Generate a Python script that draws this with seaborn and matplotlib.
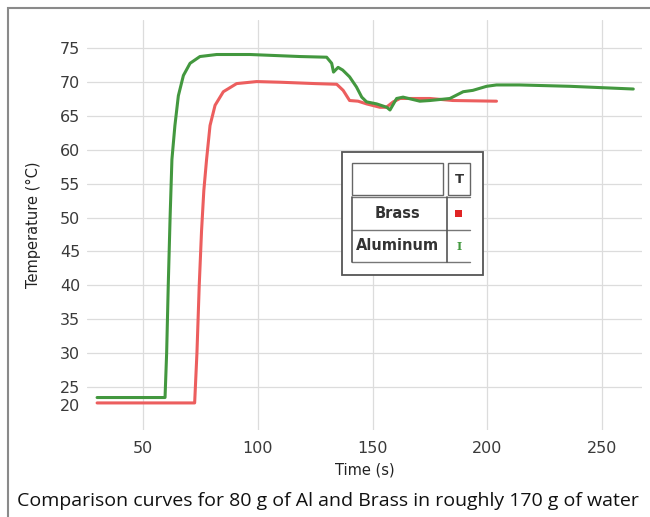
import pandas as pd
import seaborn as sns
import matplotlib.pyplot as plt
from matplotlib.patches import Rectangle
from matplotlib.lines import Line2D

# Aluminum curve (time in s, temperature in °C)
al_t = [30, 59.6, 60.3, 61.0, 61.8, 62.6, 63.9, 65.4, 67.6, 70.5, 74.8, 82.1,
        96.6, 118.4, 130.0, 132.2, 133.0, 135.0, 137.0, 140.0, 143.0, 145.3,
        147.4, 151.8, 156.2, 157.6, 160.5, 163.3, 170.6, 175.0, 183.7, 189.5,
        193.7, 199.7, 204.0, 214.0, 236.0, 263.6]
al_temp = [23.4, 23.4, 30.0, 40.0, 50.0, 58.6, 63.6, 68.0, 71.0, 72.8, 73.8, 74.1,
           74.1, 73.8, 73.7, 72.8, 71.5, 72.2, 71.8, 70.8, 69.3, 67.8,
           67.1, 66.8, 66.3, 65.9, 67.6, 67.8, 67.2, 67.3, 67.6, 68.6,
           68.8, 69.4, 69.6, 69.6, 69.4, 69.0]

# Brass curve
br_t = [30, 72.5, 73.5, 74.5, 75.5, 76.5, 77.7, 79.2, 81.4, 85.0, 90.8, 99.5,
        110, 125, 134.4, 137.2, 140.0, 143.7, 147.4, 153.2, 156.0, 159.0,
        162.0, 175.0, 185.0, 204.0]
br_temp = [22.6, 22.6, 30, 40, 48, 54, 58.6, 63.6, 66.6, 68.6, 69.8, 70.1,
           70.0, 69.8, 69.7, 68.8, 67.3, 67.2, 66.8, 66.3, 66.3, 67.1,
           67.6, 67.6, 67.3, 67.2]

x_ticks = [50, 100, 150, 200, 250]
y_ticks = [22.3, 25, 30, 35, 40, 45, 50, 55, 60, 65, 70, 75]
y_tick_labels = ["20", "25", "30", "35", "40", "45", "50", "55", "60", "65", "70", "75"]

W, H = 650, 517


def px(x, y):
    # pixel position (from top-left) -> figure fraction
    return x / W, 1 - y / H


def main():
    sns.set_theme(style="whitegrid")
    plt.rcParams["font.family"] = ["DejaVu Sans"]

    df = pd.concat([
        pd.DataFrame({"Time": br_t, "Temp": br_temp, "Metal": "Brass"}),
        pd.DataFrame({"Time": al_t, "Temp": al_temp, "Metal": "Aluminum"}),
    ])

    fig = plt.figure(figsize=(6.5, 5.17), dpi=100)
    ax = fig.add_axes([87 / W, 1 - 430 / H, 555 / W, 410 / H])

    sns.lineplot(
        data=df, x="Time", y="Temp", hue="Metal",
        palette={"Brass": "#ec5e5e", "Aluminum": "#43983f"},
        sort=False, estimator=None, linewidth=2.2, legend=False, ax=ax,
    )

    ax.set_xlim(25.6, 267.4)
    ax.set_ylim(18.6, 79.2)
    ax.set_xticks(x_ticks)
    ax.set_yticks(y_ticks)
    ax.set_yticklabels(y_tick_labels)
    for s in ax.spines.values():
        s.set_visible(False)
    ax.grid(True, color="#dcdcdc", linewidth=0.9)
    ax.yaxis.get_gridlines()[0].set_visible(False)
    ax.tick_params(axis="both", length=0, labelsize=11.5, colors="#3a3a3a")
    ax.tick_params(axis="x", pad=8)
    ax.tick_params(axis="y", pad=5)

    ax.set_xlabel("Time (s)", fontsize=10.5, color="#222222")
    ax.set_ylabel("Temperature (°C)", fontsize=10.5, color="#222222")
    ax.xaxis.set_label_coords(0.5, -0.08)
    ax.yaxis.set_label_coords(-0.083, 0.5)

    # Table-like legend drawn like the original logger software
    def box(x0, y0, x1, y1, lw=1.0, ec="#666666"):
        fx0, fy1 = px(x0, y0)
        fx1, fy0 = px(x1, y1)
        fig.patches.append(Rectangle((fx0, fy0), fx1 - fx0, fy1 - fy0,
                                     transform=fig.transFigure, fill=True,
                                     fc="white", ec=ec, lw=lw, zorder=5))

    def hline(x0, x1, y):
        a, b = px(x0, y)
        c, d = px(x1, y)
        fig.lines.append(Line2D([a, c], [b, d], transform=fig.transFigure,
                                color="#777777", lw=1.0, zorder=6))

    def vline(x, y0, y1):
        a, b = px(x, y0)
        c, d = px(x, y1)
        fig.lines.append(Line2D([a, c], [b, d], transform=fig.transFigure,
                                color="#555555", lw=1.2, zorder=6))

    box(342, 152, 483, 275, lw=1.3, ec="#555555")
    box(352, 163, 443, 195)
    box(448, 163, 470, 195)
    hline(352, 470, 197)
    hline(352, 470, 230)
    hline(352, 470, 262)
    vline(352, 197, 262)
    vline(447, 197, 262)

    fig.text(*px(459, 179), "T", ha="center", va="center", fontsize=9.5,
             fontweight="bold", color="#333333", zorder=7)
    fig.text(*px(397, 213), "Brass", ha="center", va="center", fontsize=10.5,
             fontweight="bold", color="#333333", zorder=7)
    fig.text(*px(397, 246), "Aluminum", ha="center", va="center", fontsize=10.5,
             fontweight="bold", color="#333333", zorder=7)
    fx, fy = px(459, 213)
    fig.patches.append(Rectangle((fx - 3.5 / W, fy - 3.5 / H), 7 / W, 7 / H,
                                 transform=fig.transFigure, fc="#e02424",
                                 ec="none", zorder=7))
    fig.text(*px(459, 246), "I", ha="center", va="center", fontsize=8,
             family=["DejaVu Serif"], fontweight="bold", color="#43983f",
             zorder=7)

    # outer frame of the screenshot
    fx0, fy1 = px(8, 8)
    fig.patches.append(Rectangle((fx0, -0.05), 1.2, fy1 + 0.05,
                                 transform=fig.transFigure, fill=False,
                                 ec="#8a8a8a", lw=1.5, zorder=1))

    fig.text(*px(328, 501),
             "Comparison curves for 80 g of Al and Brass in roughly 170 g of water",
             ha="center", va="center", fontsize=14, family=["Open Sans"],
             color="#111111")

    plt.savefig("out.png", dpi=100)


if __name__ == "__main__":
    main()
